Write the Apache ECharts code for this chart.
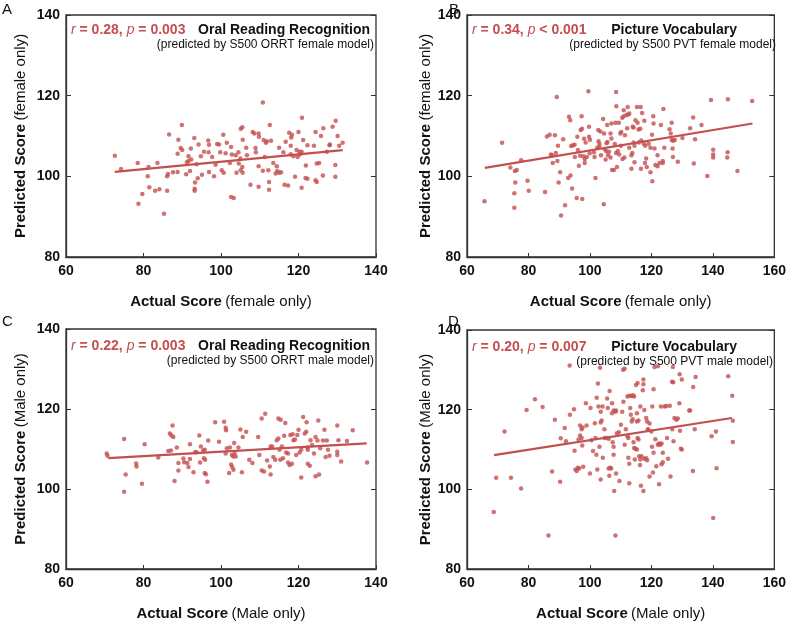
<!DOCTYPE html>
<html><head><meta charset="utf-8">
<script src="https://cdn.jsdelivr.net/npm/echarts@6/dist/echarts.min.js"></script>
<style>html,body{margin:0;padding:0;background:#fff}#c{width:789px;height:622px}</style>
</head><body><div id="c"></div>
<script>
// ---- Panel A: Oral Reading Recognition, female ----
const pointsA = [[72.6,105.1],[74.2,101.8],[78.5,103.3],[78.7,93.2],[79.7,95.6],[81.1,100],[81.3,102.3],[81.5,97.3],[83.0,96.4],[83.6,103.3],[84.1,96.8],[85.3,90.7],[86.1,96.4],[86.1,100],[86.3,100.6],[86.6,110.4],[87.6,101],[88.8,101.1],[89.0,109.1],[88.8,105.6],[89.6,107],[89.9,112.7],[90.0,106.5],[91.0,100.5],[91.2,103.5],[91.6,103.8],[91.6,105],[92.0,101.3],[92.2,106.9],[92.3,104.2],[93.1,109.5],[93.2,96.9],[93.3,98.5],[93.2,96.4],[93.7,103],[94.2,107.9],[94.0,99.5],[94.8,105],[95.1,100.4],[95.6,106.1],[96.7,108.9],[96.9,107.8],[96.9,101.1],[96.8,106],[97.7,104.8],[98.2,100],[98.6,102.9],[99.0,108],[99.5,107.9],[99.8,106],[100.2,101.5],[100.6,110.3],[100.7,100.9],[101.2,105.7],[101.5,108.3],[102.3,103.3],[102.6,107.3],[102.8,105.4],[102.6,94.9],[103.3,94.6],[103.8,105.2],[104.0,100.9],[104.5,106],[104.6,103.2],[105.0,104.4],[105.1,111.8],[105.5,112.2],[105.6,109.1],[105.1,101.5],[105.5,102.3],[105.6,100.9],[106.5,107.1],[106.7,105.2],[107.6,97.9],[108.2,111],[108.6,110.6],[108.9,107.0],[109.0,106],[109.7,110.6],[109.8,109.8],[109.7,102.5],[109.7,97.4],[110.8,118.3],[110.8,101.4],[111.0,109.0],[111.3,104.8],[111.6,108.3],[111.8,108.7],[112.2,101.5],[112.4,98.6],[112.4,96.7],[112.6,112.7],[112.9,108.8],[113.5,103.3],[114.1,100.7],[114.4,102.5],[114.5,101.3],[115.0,100.9],[115.5,101],[115.0,107.1],[116.1,106],[116.4,97.9],[117.3,97.7],[116.7,108.6],[117.6,110.8],[118.1,109.6],[118.3,110.3],[118.0,107.6],[118.0,105.5],[118.7,105],[119.1,99.9],[119.5,106.5],[120.0,111],[119.8,104.8],[120.4,105.5],[120.8,106.1],[120.2,106.1],[120.9,114.5],[120.8,97.2],[121.2,109],[121.9,102.7],[122.3,107.7],[122.3,99.4],[121.8,99.6],[124.0,107.6],[124.4,111],[124.4,99],[124.7,98.6],[124.7,103.2],[125.3,103.3],[125.8,110],[126.4,111.9],[126.3,100.2],[127.3,106.1],[128.0,107.7],[128.1,107.9],[128.8,112.3],[129.6,113.8],[129.5,102.8],[129.5,99.9],[130.1,110],[130.5,107.6],[131.4,108.3]];
const lineA = [[72.6,101.1],[131.4,106.5]];

// ---- Panel B: Picture Vocabulary, female ----
const pointsB = [[65.7,93.8],[71.4,108.3],[74.1,102.2],[75.6,101.3],[76.2,101.6],[75.7,98.5],[75.4,95.8],[75.4,92.2],[77.6,104],[79.7,98.9],[80.1,96.4],[85.4,96.1],[86.0,109.9],[86.9,110.3],[87.3,105.4],[87.6,105.2],[87.9,103.3],[88.6,110.2],[88.9,105.8],[89.2,119.7],[89.4,103.8],[89.6,107.6],[89.8,98.5],[90.3,101],[90.6,90.3],[91.3,109.2],[91.9,92.8],[92.9,99.6],[93.2,114.8],[93.6,113.9],[93.7,100.2],[93.9,107.5],[94.5,107.7],[94.2,97],[95.0,107.8],[95.1,104.8],[95.7,94.6],[95.9,109.8],[96.1,106.5],[96.4,102.6],[96.8,105.1],[97.0,111.5],[97.4,111.8],[97.5,94.4],[97.3,114.9],[97.9,105],[98.3,104.3],[98.1,109.3],[98.3,103.3],[98.6,108.4],[99.0,104.8],[99.5,121.1],[99.7,109.8],[100.0,109.1],[99.7,112.3],[99.9,105.7],[101.3,106],[101.5,104.8],[101.8,99.6],[102.4,107.1],[102.7,111.5],[103.4,111.1],[102.8,108.7],[103.1,108],[103.1,107.3],[103.6,105.2],[104.3,114.2],[104.5,93.1],[104.6,110.6],[104.8,106.8],[105.3,106.2],[105.1,104.2],[105.4,108.2],[105.7,108.5],[105.6,112.7],[105.9,105.2],[106.2,106.1],[106.7,104.7],[106.7,110.6],[107.0,109.4],[107.0,113.1],[107.2,101.6],[107.8,101.6],[108.1,108],[108.5,105.8],[108.3,113.3],[108.5,120.9],[108.6,117.4],[108.8,102.3],[109.1,106.3],[109.5,105.4],[109.4,113.3],[109.9,110.6],[110.2,111],[110.1,107.6],[110.6,104.3],[111.2,104.7],[110.5,114.5],[111.0,114.9],[111.0,116.4],[111.4,110.2],[111.9,115.2],[112.5,115.3],[112.1,111.9],[112.3,117.2],[112.8,115.6],[112.8,107.1],[113.5,105.2],[113.8,105.8],[113.5,101.9],[113.9,112.3],[114.2,112.1],[114.2,108.4],[114.5,107.6],[114.5,103.5],[114.8,113.9],[115.3,117.2],[116.5,117.2],[115.5,113.3],[115.8,111.6],[116.4,111.8],[115.9,108.4],[116.7,108.9],[116.6,101.9],[117.0,115.7],[117.5,108.1],[118.0,107.6],[117.7,113.8],[117.9,103.3],[118.3,104.4],[118.5,102.3],[119.1,108.1],[119.7,107.1],[119.7,101],[120.2,110.3],[120.3,98.8],[120.6,114.9],[120.7,113.1],[121.0,106.9],[121.3,102.8],[122.0,102.5],[122.0,105.2],[122.6,103.3],[123.1,112.7],[123.9,116.7],[123.7,103.8],[123.7,103.3],[124.2,107.1],[125.9,111.7],[126.3,110.6],[126.6,113.3],[126.6,109],[127.1,108.8],[126.9,106.9],[127.0,104.8],[127.6,109],[128.6,103.6],[130.1,109.5],[132.6,111.9],[133.6,114.6],[133.8,103.2],[134.2,109.2],[136.3,112.7],[138.2,100.1],[139.4,118.9],[140.1,106.6],[140.1,105.4],[140.1,104.7],[144.7,104.7],[144.8,106],[144.9,119.1],[148.0,101.3],[152.8,118.7]];
const lineB = [[65.8,102.1],[152.9,113.1]];

// ---- Panel C: Oral Reading Recognition, male ----
const pointsC = [[70.5,108.9],[70.7,108.3],[75.0,112.5],[75.4,103.6],[75.0,99.3],[78.1,106.4],[78.2,105.6],[79.6,101.3],[80.3,111.2],[83.8,107.9],[86.4,109.5],[87.1,109.6],[86.8,113.9],[87.2,113.4],[87.5,115.9],[87.7,113],[88.0,102],[88.6,110.4],[89.0,106.5],[89.0,104.6],[90.3,107.6],[90.5,106.7],[91.3,106.5],[91.6,105.5],[92.0,107.5],[92.0,111.2],[92.9,104.2],[93.3,109.2],[93.7,109.2],[94.4,113.4],[94.6,106.6],[94.8,110.6],[95.4,109.6],[95.8,109.8],[95.6,107.7],[95.9,107.3],[95.8,104],[96.1,103.7],[96.5,101.8],[96.7,112.1],[98.5,116.7],[99.5,111.8],[100.8,116.8],[101.2,115.3],[101.3,114.7],[101.2,108.9],[101.5,110.2],[102.1,104],[102.3,110.4],[102.6,106.1],[102.9,105.5],[102.8,108.5],[103.2,108.1],[103.5,108.9],[103.8,108.1],[103.4,111.5],[103.2,104.8],[104.5,110.4],[105.0,114.9],[105.4,104.2],[105.6,113],[106.5,114.3],[107.3,107.3],[108.1,106.5],[109.6,113],[109.9,108.5],[110.5,117.6],[110.5,104.6],[111.1,104.4],[111.4,118.8],[111.9,107.1],[112.6,105.6],[112.8,103.6],[112.8,110.6],[113.2,110.6],[113.5,108],[114.0,107.3],[114.4,112.2],[114.8,112.6],[114.8,117.6],[115.4,117.3],[115.1,109.8],[115.7,110.6],[115.3,107.3],[116.0,107.7],[116.3,113.3],[116.6,116.5],[116.8,109.1],[117.3,108.9],[117.3,106.6],[117.7,106],[118.3,106.3],[117.9,113.5],[118.5,113.7],[118.7,112.2],[119.1,112.4],[119.4,108.5],[119.7,113.5],[120.0,114.8],[120.3,109.1],[120.7,109.8],[120.7,102.9],[121.2,118],[121.6,113.9],[122.0,114.3],[122.1,116.7],[122.3,110.4],[122.4,109.8],[122.4,106.3],[122.9,105.8],[123.1,112.2],[123.5,111],[124.0,108.9],[124.4,113],[124.9,112.1],[124.4,103.2],[125.3,103.6],[125.1,117.1],[125.6,110.2],[126.3,112.1],[126.7,114.8],[127.0,108],[127.3,112.1],[127.6,109.8],[128.0,108.3],[130.0,115.9],[130.0,109.3],[130.0,108.5],[130.3,112.2],[131.0,106.9],[132.5,112],[134.0,114.7],[137.7,106.6]];
const lineC = [[70.9,107.7],[137.6,111.4]];

// ---- Panel D: Picture Vocabulary, male ----
const pointsD = [[68.7,94.3],[69.5,102.9],[72.2,114.5],[74.3,102.9],[77.6,100.2],[79.4,119.9],[82.1,122.6],[84.6,120.7],[86.5,88.4],[87.7,104.5],[88.6,117.5],[90.3,101.9],[90.5,112.8],[91.8,115.4],[92.2,112.1],[93.4,131.1],[93.5,118.7],[94.8,120.1],[95.0,109.7],[95.3,105],[95.7,104.6],[96.1,105.4],[96.5,105.2],[96.3,112.5],[96.8,116],[97.3,115.1],[97.6,115.5],[96.8,113.5],[97.3,112.9],[97.5,111],[97.8,105.7],[98.7,121.6],[98.9,116],[100.0,104],[100.2,120.4],[100.5,112.3],[101.0,109.6],[101.6,116.6],[101.8,112.9],[102.1,108.7],[102.2,123],[102.4,105],[102.6,126.6],[102.8,120.8],[103.1,110.7],[103.3,130.5],[103.5,119.5],[104.1,120.8],[103.5,116.8],[103.8,117.3],[103.5,102.5],[104.2,107.9],[104.7,115.1],[104.8,112.9],[105.6,112.9],[106.1,112.7],[105.6,122.8],[105.8,120.4],[106.1,105.2],[106.6,105.4],[106.9,105.2],[106.3,103.4],[106.4,124.7],[107.2,121.6],[107.2,119.1],[107.4,111.8],[107.7,110.7],[107.7,119.8],[108.3,119.5],[108.5,119.8],[107.7,108.7],[107.9,99.6],[108.3,88.4],[108.5,104],[108.8,114.1],[109.4,114.3],[109.6,102.1],[110.1,116.2],[110.5,119.5],[110.8,130],[111.3,130.3],[110.9,122],[111.3,111.2],[111.7,115.1],[112.2,113.3],[112.5,112.9],[112.2,123.3],[112.8,123.5],[112.5,107.9],[112.8,106.4],[112.8,101.5],[113.1,120.4],[113.3,118.7],[113.6,117],[113.9,117.6],[113.5,123.4],[114.0,123.6],[114.4,123.3],[114.2,111.8],[114.4,110.4],[114.8,110.2],[115.3,110],[114.6,107.5],[115.0,126.2],[115.5,126.7],[115.3,119.1],[115.3,117],[115.8,117.3],[115.5,112.9],[115.8,112.5],[116.0,108.3],[116.4,107.5],[116.8,108.3],[116.3,106.1],[116.4,120.8],[116.6,100.9],[117.4,99.6],[117.2,124.9],[117.4,126.4],[117.4,127.6],[117.7,107.7],[118.3,107.8],[118.6,107.3],[117.7,119.9],[118.3,117.9],[118.6,117],[118.8,115],[119.0,115],[119.4,116.5],[119.4,103.2],[120.0,114.5],[120.2,110.7],[120.5,104.2],[120.7,109.2],[120.3,120.8],[120.7,125.1],[121.0,130.7],[122.1,130.9],[121.3,112.6],[121.6,105.8],[122.1,111.2],[122.5,111.5],[122.9,111.2],[123.3,111.5],[122.5,101.3],[123.1,120.8],[123.3,106.3],[123.7,106.8],[123.7,109.2],[124.3,120.8],[124.8,120.9],[125.1,112.9],[125.4,107.7],[126.0,121],[126.2,103.2],[126.7,127],[127.1,126.9],[126.8,115.1],[127.0,130.7],[127.2,112.1],[127.5,117.9],[128.1,117.5],[128.6,117.8],[129.1,121.6],[129.2,128.9],[129.3,114.7],[129.6,110.2],[129.9,110],[129.9,127.6],[132.3,119.8],[132.6,119.8],[133.5,104.6],[133.6,125.7],[134.1,115.1],[134.4,128.2],[139.6,113.3],[140.1,92.8],[141.0,114.5],[141.2,105.3],[145.0,128.4],[146.3,123.5],[146.5,117.2],[146.5,111.9]];
const lineD = [[68.8,108.6],[146.2,117.9]];

// ---- labels and ticks ----
const panelLetters = ['A','B','C','D'];
const xRanges = [[60,140],[60,160],[60,140],[60,160]];
const yRange = [80,140];
const tickStep = 20;
const xGroupText = ['female only','female only','Male only','Male only'];
const yGroupText = ['female only','female only','Male only','Male only'];
const statR = ['0.28','0.34','0.22','0.20'];
const statP = [' = 0.003',' < 0.001',' = 0.003',' = 0.007'];
const testNames = ['Oral Reading Recognition','Picture Vocabulary','Oral Reading Recognition','Picture Vocabulary'];
const modelNotes = ['(predicted by S500 ORRT female model)','(predicted by S500 PVT female model)','(predicted by S500 ORRT male model)','(predicted by S500 PVT male model)'];

const allPoints = [pointsA, pointsB, pointsC, pointsD];
const allLines = [lineA, lineB, lineC, lineD];

const RED = '#c44f4f';
const FONT = '"Liberation Sans", Arial, Helvetica, sans-serif';
const grids = [
  {left:66, top:15, width:310, height:242},
  {left:467, top:15, width:310, height:242},
  {left:66, top:329, width:310, height:243},
  {left:467, top:330, width:310, height:242}
];
const yNameGaps = [38, 32, 38, 32];

const chart = echarts.init(document.getElementById('c'), null, {renderer:'canvas'});
const option = {
  animation:false,
  backgroundColor:'#fff',
  grid: grids.map(g => Object.assign({show:true, borderColor:'#333', borderWidth:1.3, backgroundColor:'transparent'}, g)),
  xAxis: [], yAxis: [], series: [], graphic: []
};

for (let i=0;i<4;i++){
  option.xAxis.push({
    type:'value', gridIndex:i, min:xRanges[i][0], max:xRanges[i][1], interval:tickStep,
    axisLine:{show:true, lineStyle:{color:'#333', width:1.3}},
    axisTick:{show:true, inside:true, length:4, lineStyle:{color:'#333'}},
    splitLine:{show:false},
    axisLabel:{color:'#111', fontFamily:FONT, fontWeight:'bold', fontSize:14, margin:7},
    name:'{b|Actual Score} {n|(' + xGroupText[i] + ')}',
    nameLocation:'middle', nameGap:37,
    nameTextStyle:{rich:{b:{fontFamily:FONT, fontWeight:'bold', fontSize:15, color:'#111'}, n:{fontFamily:FONT, fontSize:15, color:'#111'}}}
  });
  option.yAxis.push({
    type:'value', gridIndex:i, min:yRange[0], max:yRange[1], interval:tickStep,
    axisLine:{show:true, lineStyle:{color:'#333', width:1.3}},
    axisTick:{show:true, inside:true, length:5, lineStyle:{color:'#333'}},
    splitLine:{show:false},
    axisLabel:{color:'#111', fontFamily:FONT, fontWeight:'bold', fontSize:14, margin:6},
    name:'{b|Predicted Score} {n|(' + yGroupText[i] + ')}',
    nameLocation:'middle', nameGap:yNameGaps[i], nameRotate:90,
    nameTextStyle:{rich:{b:{fontFamily:FONT, fontWeight:'bold', fontSize:15, color:'#111'}, n:{fontFamily:FONT, fontSize:15, color:'#111'}}}
  });
}
// right-side tick axes
for (let i=0;i<4;i++){
  option.yAxis.push({
    type:'value', gridIndex:i, position:'right', min:yRange[0], max:yRange[1], interval:tickStep,
    axisLine:{show:false}, axisTick:{show:true, inside:true, length:5, lineStyle:{color:'#333'}},
    axisLabel:{show:false}, splitLine:{show:false}
  });
}

for (let i=0;i<4;i++){
  option.series.push({
    type:'scatter', xAxisIndex:i, yAxisIndex:i, data:allPoints[i],
    symbol:'circle', symbolSize:4.5, itemStyle:{color:RED}, silent:true
  });
  option.series.push({
    type:'line', xAxisIndex:i, yAxisIndex:i, data:allLines[i],
    symbol:'none', lineStyle:{color:RED, width:2.2}, silent:true, z:3
  });
}

// annotations
const letterPos = [[2,2],[449,2],[2,314],[448,314]];
const titleRight = [370, 737, 370, 737];
const noteRight = [374, 776, 374, 773];
for (let i=0;i<4;i++){
  const g = grids[i];
  const dy = (i>=2) ? 10 : 8;
  option.graphic.push({type:'text', left:letterPos[i][0], top:letterPos[i][1],
    style:{text:panelLetters[i], font:'15px '+FONT, fill:'#111'}});
  option.graphic.push({type:'text', left:g.left+5, top:g.top+dy,
    style:{
      text:'{i|r}{v| = ' + statR[i] + ', }{i|p}{v|' + statP[i] + '}',
      rich:{
        i:{font:'italic 14px '+FONT, fill:RED},
        v:{font:'bold 14px '+FONT, fill:RED}
      }
    }});
  option.graphic.push({type:'text', right: 789 - titleRight[i], top:g.top+dy,
    style:{text:testNames[i], font:'bold 14px '+FONT, fill:'#111', textAlign:'right'}});
  option.graphic.push({type:'text', right: 789 - noteRight[i], top:g.top+dy+16,
    style:{text:modelNotes[i], font:'12px '+FONT, fill:'#111', textAlign:'right'}});
}

chart.setOption(option);
</script>
</body></html>
